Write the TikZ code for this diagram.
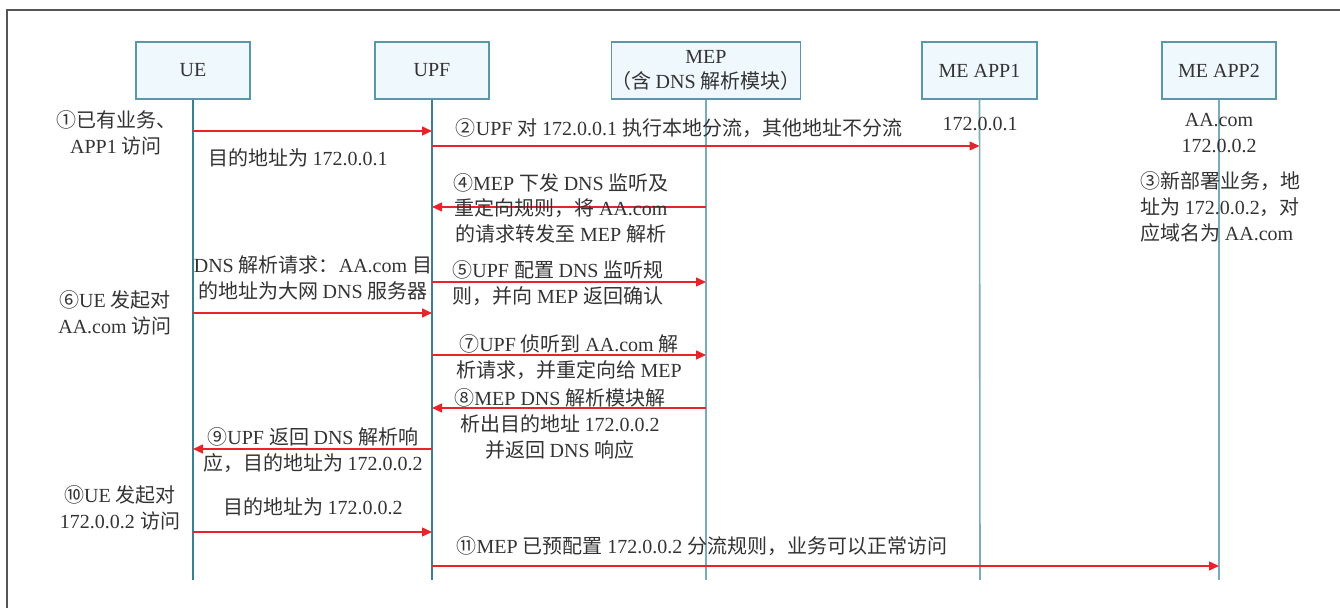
\documentclass[tikz,border=0pt]{standalone}
\usepackage{fontspec}
\setmainfont{Liberation Serif}
\newfontfamily\cjkfont{Noto Sans CJK SC}
\usetikzlibrary{arrows.meta}
% automatic font switching between Latin and CJK characters
\newXeTeXintercharclass\CJKcls
\newcount\cjkcnt
\def\setcjkrange#1#2{\cjkcnt=#1\relax\loop\XeTeXcharclass\cjkcnt=\CJKcls\relax\ifnum\cjkcnt<#2\relax\advance\cjkcnt by 1\relax\repeat}
\setcjkrange{"2460}{"24FF}
\setcjkrange{"3000}{"303F}
\setcjkrange{"4E00}{"9FFF}
\setcjkrange{"FF00}{"FFEF}
\XeTeXinterchartoks 0 \CJKcls = {\cjkfont}
\XeTeXinterchartoks 4095 \CJKcls = {\cjkfont}
\XeTeXinterchartoks \CJKcls 0 = {\rmfamily}
\XeTeXinterchartoks 4095 0 = {\rmfamily}
\XeTeXinterchartokenstate=1
\definecolor{boxline}{HTML}{5C97A9}
\definecolor{boxfill}{HTML}{EFF8FD}
\definecolor{lifeA}{HTML}{3C7F95}
\definecolor{lifeB}{HTML}{7BAAB9}
\definecolor{msg}{HTML}{E8232A}
\definecolor{txt}{HTML}{333333}
\definecolor{framecol}{HTML}{555555}
\newcommand\fs{\fontsize{10}{12.8}\selectfont}
\tikzset{
  actor/.style={draw=boxline, fill=boxfill, line width=0.6pt, minimum height=28.5pt, align=center, inner sep=0pt, text=txt, font=\fs},
  lbl/.style={align=center, inner sep=0pt, text=txt, font=\fs},
  msgarrow/.style={draw=msg, line width=0.7pt, -{Triangle[length=5pt,width=4.5pt]}},
  lifeline/.style={line width=0.8pt},
}
\begin{document}
\begin{tikzpicture}[x=0.5pt,y=-0.5pt]
\useasboundingbox (0,0) rectangle (1340,608);
\draw[framecol, line width=0.6pt] (7,608) -- (7,10) -- (1340,10);

% actors
\node[actor, minimum width=57pt] (ue) at (193,70.5) {UE};
\node[actor, minimum width=57pt] (upf) at (432,70.5) {UPF};
\node[actor, minimum width=92pt] (mep) at (706,70.5) {MEP\\（含 DNS 解析模块）};
\node[actor, minimum width=57.5pt] (app1) at (979.5,70.5) {ME APP1};
\node[actor, minimum width=57pt] (app2) at (1219,70.5) {ME APP2};

% lifelines
\coordinate (ue-end) at (193,580);
\coordinate (upf-end) at (432,580);
\coordinate (mep-end) at (706,580);
\coordinate (app1-end) at (980,580);
\coordinate (app2-end) at (1219,580);
\draw[lifeline, lifeA] (ue.south) -- (ue-end);
\draw[lifeline, lifeA] (upf.south) -- (upf-end);
\draw[lifeline, lifeB] (mep.south) -- (mep-end);
\draw[lifeline, lifeB] (app1.south) -- (app1-end);
\draw[lifeline, lifeB] (app2.south) -- (app2-end);

% messages
\draw[msgarrow] (ue.south |- 0,131) -- (upf.south |- 0,131);
\draw[msgarrow] (upf.south |- 0,146) -- (app1.south |- 0,146);
\draw[msgarrow] (mep.south |- 0,207) -- (upf.south |- 0,207);
\draw[msgarrow] (upf.south |- 0,282) -- (mep.south |- 0,282);
\draw[msgarrow] (ue.south |- 0,313) -- (upf.south |- 0,313);
\draw[msgarrow] (upf.south |- 0,355) -- (mep.south |- 0,355);
\draw[msgarrow] (mep.south |- 0,408) -- (upf.south |- 0,408);
\draw[msgarrow] (upf.south |- 0,449) -- (ue.south |- 0,449);
\draw[msgarrow] (ue.south |- 0,532) -- (upf.south |- 0,532);
\draw[msgarrow] (upf.south |- 0,566) -- (app2.south |- 0,566);

% labels
\node[lbl] (l1) at (116,133) {①已有业务、\\APP1 访问};
\node[lbl] (t1) at (298,158) {目的地址为 172.0.0.1};
\node[lbl] (t2) at (679,128) {②UPF 对 172.0.0.1 执行本地分流，其他地址不分流};
\node[lbl] (ip1) at (980,124) {172.0.0.1};
\node[lbl] (ip2) at (1219,133) {AA.com\\172.0.0.2};
\node[lbl, align=left, anchor=west] (t3) at (1140,207) {③新部署业务，地\\址为 172.0.0.2，对\\应域名为 AA.com};
\node[lbl] (t4) at (561,208) {④MEP 下发 DNS 监听及\\重定向规则，将 AA.com\\的请求转发至 MEP 解析};
\node[lbl] (dns) at (313,278) {DNS 解析请求：AA.com 目\\的地址为大网 DNS 服务器};
\node[lbl] (t5) at (558,283) {⑤UPF 配置 DNS 监听规\\则，并向 MEP 返回确认};
\node[lbl] (l6) at (115,313) {⑥UE 发起对\\AA.com 访问};
\node[lbl] (t7) at (569,357) {⑦UPF 侦听到 AA.com 解\\析请求，并重定向给 MEP};
\node[lbl] (t8) at (560,424) {⑧MEP DNS 解析模块解\\析出目的地址 172.0.0.2\\并返回 DNS 响应};
\node[lbl] (t9) at (313,450) {⑨UPF 返回 DNS 解析响\\应，目的地址为 172.0.0.2};
\node[lbl] (l10) at (120,508) {⑩UE 发起对\\172.0.0.2 访问};
\node[lbl] (t10) at (313,507) {目的地址为 172.0.0.2};
\node[lbl] (t11) at (702,546) {⑪MEP 已预配置 172.0.0.2 分流规则，业务可以正常访问};
\end{tikzpicture}
\end{document}
